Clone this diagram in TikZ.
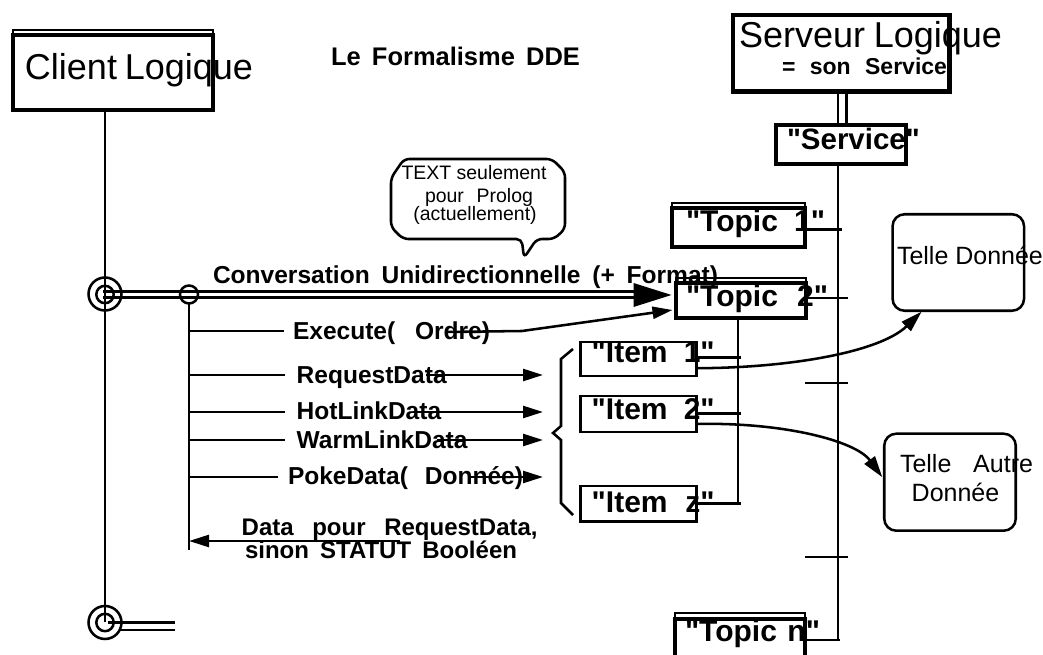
\documentclass[tikz,border=0pt]{standalone}
\usepackage{fontspec}
\setmainfont{Liberation Sans}[Ligatures=TeXOff]
\usetikzlibrary{arrows.meta,calc}
\newlength\px
\setlength\px{0.75pt}
\newcommand\fsz[1]{\fontsize{#1}{#1}\selectfont}
\begin{document}
\begin{tikzpicture}[x=0.75pt,y=-0.75pt,
  txt/.style={inner sep=0pt,outer sep=0pt,anchor=base west},
  ctxt/.style={inner sep=0pt,outer sep=0pt,anchor=base},
  ln/.style={line width=1.9pt},
  thin2/.style={line width=1.5pt},
  box/.style={draw,rectangle,inner sep=0pt,outer sep=0pt},
  rbox/.style={draw,rectangle,rounded corners=9pt,line width=1.9pt,inner sep=0pt,outer sep=0pt},
  ring/.style={draw,circle,line width=1.9pt,inner sep=0pt,outer sep=0pt},
  arr/.style={-{Triangle[length=15pt,width=9pt]}},
  carr/.style={-{Triangle[length=16pt,width=9.5pt]}},
  lab/.style={font=\fsz{18.4pt}\bfseries},
  ]
\useasboundingbox (0,0) rectangle (1043,655);
\begin{scope}
\clip (0,0) rectangle (1043,655);
% ---------- texts ----------
\node[txt] (tclient) at (25,79.5) {\fsz{27pt}\makebox[228\px][s]{Client Logique}};
\node[txt] (ttitle) at (331,66) {\fsz{19.1pt}\bfseries\makebox[249\px][s]{Le Formalisme DDE}};
\node[txt] (tserver) at (739,48) {\fsz{27pt}\makebox[263\px][s]{Serveur Logique}};
\node[txt] (tson) at (782,75) {\fsz{17.25pt}\bfseries\makebox[165\px][s]{= son Service}};
\node[txt] (tservice) at (787,150) {\fsz{22.1pt}\bfseries "Service"};
\node[txt] (tt1) at (686,231.5) {\fsz{22.5pt}\bfseries\makebox[139\px][s]{"Topic 1"}};
\node[txt] (tt2) at (686,307) {\fsz{22.5pt}\bfseries\makebox[142\px][s]{"Topic 2"}};
\node[txt] (ttn) at (685,642) {\fsz{22.5pt}\bfseries\makebox[135\px][s]{"Topic n"}};
\node[ctxt] (b1) at (474,180) {\fsz{14.6pt}TEXT seulement};
\node[ctxt] (b2) at (479,203) {\fsz{14.6pt}\makebox[108\px][s]{pour Prolog}};
\node[ctxt] (b3) at (475,221) {\fsz{14.6pt}(actuellement)};
\node[txt,lab] (lconv) at (213,284) {\makebox[505\px][s]{Conversation Unidirectionnelle (+ Format)}};
\node[txt,lab] (lexec) at (293,340) {\makebox[197\px][s]{Execute( Ordre)}};
\node[txt,lab] (lreq) at (296.7,384) {RequestData};
\node[txt,lab] (lhot) at (296.7,419.3) {HotLinkData};
\node[txt,lab] (lwarm) at (296.7,448.3) {WarmLinkData};
\node[txt,lab] (lpoke) at (288,485) {\makebox[235\px][s]{PokeData( Donnée)}};
\node[txt] (lret1) at (241.7,536) {\fsz{18pt}\bfseries\makebox[296\px][s]{Data pour RequestData,}};
\node[txt] (lret2) at (245,559) {\fsz{18pt}\bfseries\makebox[272\px][s]{sinon STATUT Booléen}};
\node[txt] (ti1) at (591.7,363) {\fsz{22.5pt}\bfseries\makebox[123\px][s]{"Item 1"}};
\node[txt] (ti2) at (591.7,419.3) {\fsz{22.5pt}\bfseries\makebox[123\px][s]{"Item 2"}};
\node[txt] (tiz) at (591.7,512.7) {\fsz{22.5pt}\bfseries\makebox[123\px][s]{"Item z"}};
\node[txt] (td) at (897,265) {\fsz{18.75pt}Telle Donnée};
\node[txt] (ta1) at (900,473) {\fsz{18.75pt}\makebox[133\px][s]{Telle Autre}};
\node[txt] (ta2) at (911.7,501.7) {\fsz{18.75pt}Donnée};
% ---------- boxes ----------
\node[box,line width=3pt,minimum width=200*0.75pt,minimum height=74.5*0.75pt] (client) at (113,72.75) {};
\draw[thin2] (client.north west) -- ++(0,-5.5) -| (client.north east);
\node[box,line width=3.4pt,minimum width=216.5*0.75pt,minimum height=76.7*0.75pt] (server) at (841.25,53.35) {};
\node[box,line width=3pt,minimum width=130*0.75pt,minimum height=39*0.75pt] (service) at (841,144.2) {};
\node[box,line width=3pt,minimum width=133*0.75pt,minimum height=38.5*0.75pt] (topic1) at (738.5,227.75) {};
\draw[thin2] (topic1.north west) -- ++(0,-5) -| (topic1.north east);
\node[box,line width=3pt,minimum width=130.5*0.75pt,minimum height=35*0.75pt] (topic2) at (740.75,300.5) {};
\draw[thin2] (topic2.north west) -- ++(0,-4.5) -| (topic2.north east);
\node[box,line width=3pt,minimum width=130*0.75pt,minimum height=61*0.75pt] (topicn) at (739.5,649.5) {};
\draw[thin2] (topicn.north west) -- ++(0,-5.5) -| (topicn.north east);
\node[box,line width=1.9pt,minimum width=116*0.75pt,minimum height=34*0.75pt] (item1) at (638.3,359.2) {};
\node[box,line width=1.9pt,minimum width=116*0.75pt,minimum height=35.7*0.75pt] (item2) at (638.3,414) {};
\node[box,line width=1.9pt,minimum width=116*0.75pt,minimum height=35.7*0.75pt] (itemz) at (638.3,503.85) {};
\node[rbox,minimum width=131.5*0.75pt,minimum height=96.5*0.75pt] (tdon) at (958.3,262.5) {};
\node[rbox,minimum width=131.5*0.75pt,minimum height=97*0.75pt] (tautre) at (950,482.2) {};
% ---------- rings ----------
\node[ring,minimum size=33*0.75pt] (ctop) at (105,294) {};
\node[ring,minimum size=17.4*0.75pt] (ctopi) at (105,294.5) {};
\node[ring,minimum size=18*0.75pt] (sc) at (189,294.5) {};
\node[ring,minimum size=33*0.75pt] (cbot) at (105,622.5) {};
\node[ring,minimum size=17.4*0.75pt] (cboti) at (105,622.5) {};
% ---------- client side ----------
\draw[ln] (client.south -| ctop.center) -- (cbot.center);
\coordinate (ctip) at ($(topic2.west)+(-4,-5.5)$);
\draw[line width=2.2pt] ($(ctop.center)+(-2,-2.5)$) -- ($(ctip)+(-35,-3.5)$);
\draw[line width=2.2pt] ($(ctop.center)+(-2,3.5)$) -- ($(ctip)+(-35,2.5)$);
\fill ($(ctip)+(-38,-12)$) -- (ctip) -- ($(ctip)+(-38,12)$) -- cycle;
\draw[line width=2.2pt] ($(cboti.center)+(3,0)$) -- ($(cbot.center)+(70,0)$);
\draw[line width=2.2pt] ($(cbot.center)+(14,7.5)$) -- ($(cbot.center)+(70,7.5)$);
\draw[ln] (sc.south) -- (sc |- 0,550);
\draw[ln] (sc |- 0,331) -- (284,331);
\draw[ln] (sc |- 0,375) -- (285,375);
\draw[ln] (sc |- 0,412) -- (285,412);
\draw[ln] (sc |- 0,440) -- (285,440);
\draw[ln] (sc |- 0,477) -- (278,477);
\draw[ln,arr] (447,332) -- (522,331) -- ($(topic2.west)+(-3,9.5)$);
\coordinate (br) at (543,0);
\draw[ln,arr] (426,375) -- (br |- 0,375);
\draw[ln,arr] (413,412) -- (br |- 0,412);
\draw[ln,arr] (437,440) -- (br |- 0,440);
\draw[ln,arr] (470,477) -- (br |- 0,477);
\draw[ln,arr] (400,541) -- (sc |- 0,541);
% ---------- bubble ----------
\draw[ln,rounded corners=4pt] (404,159) -- (552,159) -- (565,172) -- (565,229) -- (554,239) -- (536.7,239) -- (524,258) -- (521.7,239) -- (403,239) -- (391,227) -- (391,178) -- cycle;
% ---------- brace ----------
\draw[ln] (573,349) -- (561,359) -- (561,426) -- (553,433) -- (561,440) -- (561,503) -- (573,515);
% ---------- items ----------
\draw[ln] (topic2.south -| 738,0) -- (738,504);
\draw[ln] (item1.east |- 0,357.7) -- (741,357.7);
\draw[ln] (item2.east |- 0,413.3) -- (741,413.3);
\draw[ln] (itemz.east |- 0,503.3) -- (741,503.3);
% ---------- server ----------
\coordinate (sx) at (838,0);
\draw[ln] (server.south -| sx) -- (service.north -| sx);
\draw[ln] (server.south -| 846.5,0) -- (service.north -| 846.5,0);
\draw[ln] (service.south -| sx) -- (sx |- 0,641);
\draw[ln] (topic1.east |- 0,229.3) -- (842,229.3);
\draw[ln] (topic2.east |- 0,298) -- (848,298);
\draw[ln] (805,383) -- (848,383);
\draw[ln] (805,557) -- (848,557);
\draw[ln] (topicn.east |- 0,640) -- (840,640);
% ---------- curves ----------
\draw[ln,carr] ($(item1.east)+(0,9)$) .. controls (790,368) and (880,352) .. ($(tdon.south west)+(29,1)$);
\draw[ln,carr] ($(item2.east)+(0,10)$) .. controls (780,422) and (855,440) .. ($(tautre.west)+(-2,-5)$);
\end{scope}
\end{tikzpicture}
\end{document}
